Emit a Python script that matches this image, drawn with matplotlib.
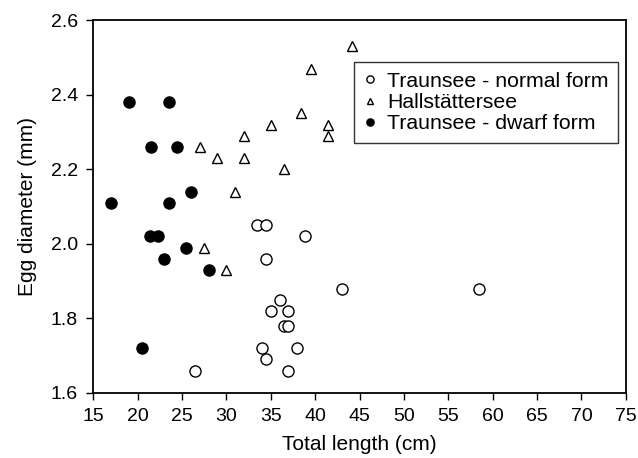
import matplotlib.pyplot as plt

plt.rcParams['font.family'] = ['Liberation Sans', 'DejaVu Sans']

# Traunsee - normal form
normal_len = [33.5, 34.5, 38.9, 34.5, 43.0, 58.5, 36.0, 35.0, 37.0, 36.5, 37.0, 34.0, 38.0, 34.5, 26.5, 37.0]
normal_egg = [2.05, 2.05, 2.02, 1.96, 1.88, 1.88, 1.85, 1.82, 1.82, 1.78, 1.78, 1.72, 1.72, 1.69, 1.66, 1.66]

# Hallstättersee
hall_len = [44.2, 39.5, 38.4, 41.5, 41.5, 35.0, 32.0, 27.0, 29.0, 32.0, 36.5, 31.0, 27.5, 30.0]
hall_egg = [2.53, 2.47, 2.35, 2.32, 2.29, 2.32, 2.29, 2.26, 2.23, 2.23, 2.20, 2.14, 1.99, 1.93]

# Traunsee - dwarf form
dwarf_len = [19.0, 23.5, 21.5, 24.5, 17.0, 23.5, 26.0, 21.4, 22.3, 25.5, 23.0, 28.0, 20.5]
dwarf_egg = [2.38, 2.38, 2.26, 2.26, 2.11, 2.11, 2.14, 2.02, 2.02, 1.99, 1.96, 1.93, 1.72]

x_ticks = list(range(15, 80, 5))
y_ticks = [1.6, 1.8, 2.0, 2.2, 2.4, 2.6]

fig = plt.figure(figsize=(6.38, 4.58), dpi=100)
ax = fig.add_axes([0.146, 0.142, 0.835, 0.814])

ax.plot(normal_len, normal_egg, 'o', ms=8, mfc='white', mec='black', mew=1.0,
        label='Traunsee - normal form')
ax.plot(hall_len, hall_egg, '^', ms=7.5, mfc='white', mec='black', mew=1.0,
        label='Hallstättersee')
ax.plot(dwarf_len, dwarf_egg, 'o', ms=8, mfc='black', mec='black', mew=1.0,
        label='Traunsee - dwarf form')

ax.set_xlim(15, 75)
ax.set_ylim(1.6, 2.6)
ax.set_xticks(x_ticks)
ax.set_yticks(y_ticks)
ax.set_yticklabels([f'{v:.1f}' for v in y_ticks])
ax.tick_params(direction='out', length=5, width=1, labelsize=14, pad=6, top=False, right=False)
for s in ax.spines.values():
    s.set_linewidth(1.3)

ax.set_xlabel('Total length (cm)', fontsize=15, labelpad=7)
ax.set_ylabel('Egg diameter (mm)', fontsize=15, labelpad=10)

leg = ax.legend(loc='upper right', bbox_to_anchor=(0.985, 0.887), fontsize=15.3,
                markerscale=0.65, handlelength=0.6, handletextpad=0.5,
                borderpad=0.45, labelspacing=0.1, frameon=True, fancybox=False,
                borderaxespad=0)
leg.get_frame().set_edgecolor('black')
leg.get_frame().set_linewidth(1.0)

fig.savefig('out.png', dpi=100)
